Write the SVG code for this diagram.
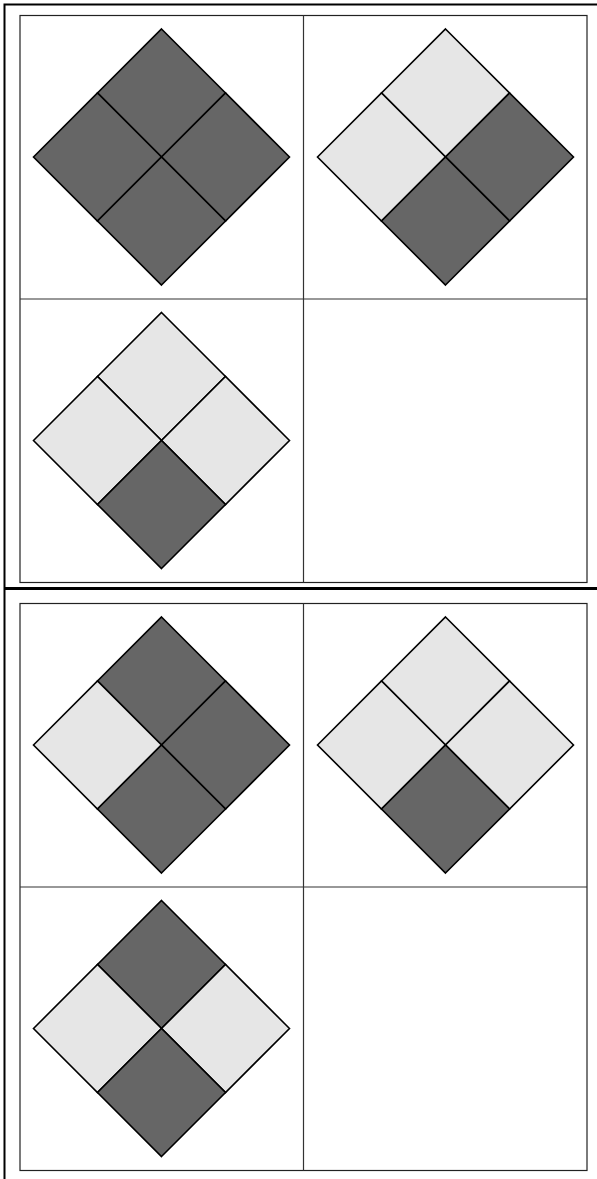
<svg xmlns="http://www.w3.org/2000/svg" width="597" height="1179" viewBox="0 0 597 1179">
<style>
.frame{fill:none;stroke:#000;stroke-width:2}
.panel{fill:#fff;stroke:#222;stroke-width:1.2}
.grid{stroke:#333;stroke-width:1.2}
.d{fill:#666666;stroke:#000;stroke-width:1.6;stroke-linejoin:miter}
.l{fill:#e6e6e6;stroke:#000;stroke-width:1.6;stroke-linejoin:miter}
</style>
<defs>
<path id="qt" d="M0,-128 L64,-64 L0,0 L-64,-64 Z"/>
<path id="ql" d="M-128,0 L-64,-64 L0,0 L-64,64 Z"/>
<path id="qr" d="M128,0 L64,-64 L0,0 L64,64 Z"/>
<path id="qb" d="M0,128 L64,64 L0,0 L-64,64 Z"/>
</defs>
<rect width="597" height="1179" fill="#fff"/>
<g id="frame">
<path class="frame" d="M4.5,1179 V4.5 H597"/>
<path d="M4.5,588.5 H597" stroke="#000" stroke-width="3"/>
</g>
<g id="panel1">
<rect class="panel" x="20" y="15.5" width="567" height="567"/>
<path class="grid" d="M303.5,15.5 V582.5 M20,299 H587"/>
</g>
<g id="panel2">
<rect class="panel" x="20" y="603.5" width="567" height="567"/>
<path class="grid" d="M303.5,603.5 V1170.5 M20,887 H587"/>
</g>
<g id="p1a" transform="translate(161.5,157)">
<use href="#qt" class="d"/><use href="#ql" class="d"/><use href="#qr" class="d"/><use href="#qb" class="d"/>
</g>
<g id="p1b" transform="translate(445.5,157)">
<use href="#qt" class="l"/><use href="#ql" class="l"/><use href="#qr" class="d"/><use href="#qb" class="d"/>
</g>
<g id="p1c" transform="translate(161.5,440.5)">
<use href="#qt" class="l"/><use href="#ql" class="l"/><use href="#qr" class="l"/><use href="#qb" class="d"/>
</g>
<g id="p2a" transform="translate(161.5,745)">
<use href="#qt" class="d"/><use href="#ql" class="l"/><use href="#qr" class="d"/><use href="#qb" class="d"/>
</g>
<g id="p2b" transform="translate(445.5,745)">
<use href="#qt" class="l"/><use href="#ql" class="l"/><use href="#qr" class="l"/><use href="#qb" class="d"/>
</g>
<g id="p2c" transform="translate(161.5,1028.5)">
<use href="#qt" class="d"/><use href="#ql" class="l"/><use href="#qr" class="l"/><use href="#qb" class="d"/>
</g>
<g id="connectors"></g>
</svg>
